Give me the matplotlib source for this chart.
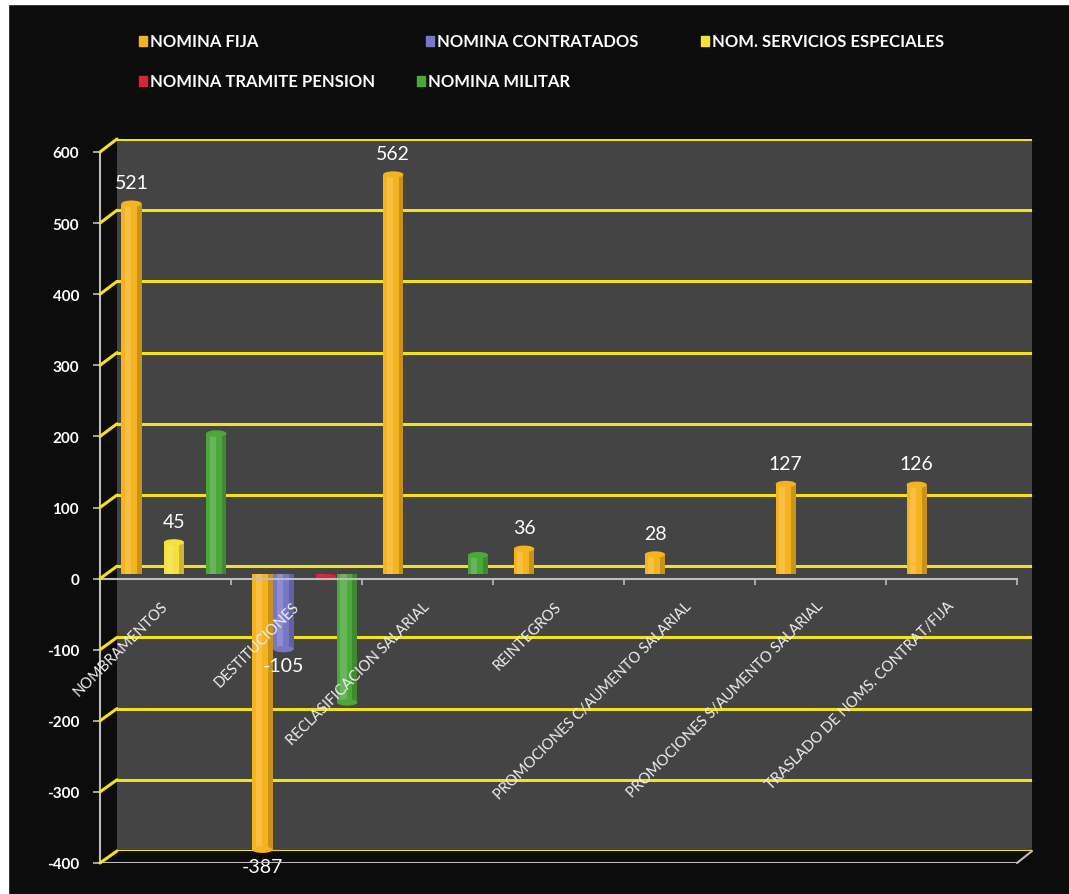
import numpy as np
import matplotlib.pyplot as plt
from matplotlib.patches import Rectangle, ConnectionPatch, Ellipse

plt.rcParams['font.family'] = ['Lato', 'DejaVu Sans']
plt.rcParams['axes.unicode_minus'] = False

# datos
categorias = ['NOMBRAMENTOS', 'DESTITUCIONES', 'RECLASIFICACION SALARIAL', 'REINTEGROS',
              'PROMOCIONES C/AUMENTO SALARIAL', 'PROMOCIONES S/AUMENTO SALARIAL',
              'TRASLADO DE NOMS. CONTRAT/FIJA']
nomina_fija = [521, -387, 562, 36, 28, 127, 126]
nomina_contratados = [0, -105, 0, 0, 0, 0, 0]
nom_servicios_especiales = [45, 0, 0, 0, 0, 0, 0]
nomina_tramite_pension = [0, -4, 0, 0, 0, 0, 0]
nomina_militar = [198, -180, 27, 0, 0, 0, 0]

nombres = ['NOMINA FIJA', 'NOMINA CONTRATADOS', 'NOM. SERVICIOS ESPECIALES',
           'NOMINA TRAMITE PENSION', 'NOMINA MILITAR']
series = [nomina_fija, nomina_contratados, nom_servicios_especiales,
          nomina_tramite_pension, nomina_militar]
colores = ['#F6B320', '#7A76C6', '#F4E13C', '#D3263A', '#4DA83C']
# serie -> categorias con etiqueta de valor
con_etiqueta = {0: [0, 1, 2, 3, 4, 5, 6], 1: [1], 2: [0]}

W, H = 1069, 895


def caja(x0, y0, x1, y1):
    return [x0 / W, 1 - y1 / H, (x1 - x0) / W, (y1 - y0) / H]


fig = plt.figure(figsize=(W / 100, H / 100), dpi=100)
fig.patch.set_facecolor('#0c0c0c')
# borde blanco del escaneo
fig.add_artist(Rectangle((0, 0), 8 / W, 1, transform=fig.transFigure, color='white', zorder=0))
fig.add_artist(Rectangle((0, 1 - 5 / H), 1, 5 / H, transform=fig.transFigure, color='white', zorder=0))

ymin, ymax = -400, 600
xlim = (-0.5, len(categorias) - 0.5)

# pared del fondo
ax_fondo = fig.add_axes(caja(117, 140, 1032, 852))
ax_fondo.set_facecolor('#444444')
ax_fondo.set_xlim(xlim)
ax_fondo.set_ylim(ymin, ymax)
for v in range(ymin, ymax + 1, 100):
    ax_fondo.axhline(v, color='#F2E21E', lw=2.2)
ax_fondo.set_xticks([])
ax_fondo.set_yticks([])
for s in ax_fondo.spines.values():
    s.set_visible(False)

# barras (plano intermedio)
ax = fig.add_axes(caja(108.5, 148.5, 1024.5, 860))
ax.set_facecolor('none')
ax.set_xlim(xlim)
ax.set_ylim(ymin, ymax)
ax.axis('off')

x = np.arange(len(categorias))
ancho = 0.155
paso = 0.162
alto_tapa = 9  # unidades del eje, ~6 px
for i, (vals, col) in enumerate(zip(series, colores)):
    pos = x + (i - 2) * paso
    ax.bar(pos, vals, width=ancho, color=col, linewidth=0)
    ax.bar(pos - ancho * 0.18, vals, width=ancho * 0.3, color='white', alpha=0.16, linewidth=0)
    ax.bar(pos + ancho * 0.38, vals, width=ancho * 0.24, color='black', alpha=0.18, linewidth=0)
    for p, v in zip(pos, vals):
        if v != 0:
            ax.add_patch(Ellipse((p, v), ancho, alto_tapa, color=col, lw=0))
    for j in con_etiqueta.get(i, []):
        v = vals[j]
        ax.annotate(str(v), (pos[j], v), xytext=(0, 9 if v > 0 else -6),
                    textcoords='offset points', ha='center',
                    va='bottom' if v > 0 else 'top', color='white', fontsize=14)

# eje frontal
ax_frente = fig.add_axes(caja(100, 153, 1017, 864))
ax_frente.set_facecolor('none')
ax_frente.set_xlim(xlim)
ax_frente.set_ylim(ymin, ymax)
ax_frente.set_yticks(range(ymin, ymax + 1, 100))
ax_frente.tick_params(axis='y', colors='#BDBDBD', length=5, width=1.2, labelcolor='white',
                      labelsize=11, pad=10)
for t in ax_frente.get_yticklabels():
    t.set_fontweight('bold')
ax_frente.set_xticks(np.arange(len(categorias)) + 0.5)
ax_frente.set_xticklabels([])
ax_frente.tick_params(axis='x', colors='#BDBDBD', length=4, width=1.2)
ax_frente.spines['bottom'].set_position(('data', 0))
for lado in ['top', 'right']:
    ax_frente.spines[lado].set_visible(False)
for lado in ['left', 'bottom']:
    ax_frente.spines[lado].set_color('#BDBDBD')
    ax_frente.spines[lado].set_linewidth(1.5)
ax_frente.axhline(ymin, color='#BDBDBD', lw=1.5)

for i, nombre in enumerate(categorias):
    ax_frente.text(i + 0.04, -28, nombre, rotation=45, ha='right', va='top',
                   color='#F0F0F0', fontsize=10.5)

# uniones en perspectiva
for v in range(ymin, ymax + 1, 100):
    fig.add_artist(ConnectionPatch(xyA=(xlim[0], v), coordsA=ax_frente.transData,
                                   xyB=(xlim[0], v), coordsB=ax_fondo.transData,
                                   color='#F2E21E', lw=2.2))
fig.add_artist(ConnectionPatch(xyA=(xlim[1], ymin), coordsA=ax_frente.transData,
                               xyB=(xlim[1], ymin), coordsB=ax_fondo.transData,
                               color='#BDBDBD', lw=1.5))

# leyenda
pos_leyenda = [(139, 42), (426, 42), (701, 42), (139, 82), (417, 82)]
for nombre, col, (lx, ly) in zip(nombres, colores, pos_leyenda):
    fig.add_artist(Rectangle((lx / W, 1 - (ly + 5) / H), 8 / W, 10 / H,
                             transform=fig.transFigure, color=col))
    fig.text((lx + 11) / W, 1 - ly / H, nombre, color='white', fontsize=12,
             fontweight='bold', va='center', ha='left')

fig.savefig('out.png', dpi=100, facecolor=fig.get_facecolor())
